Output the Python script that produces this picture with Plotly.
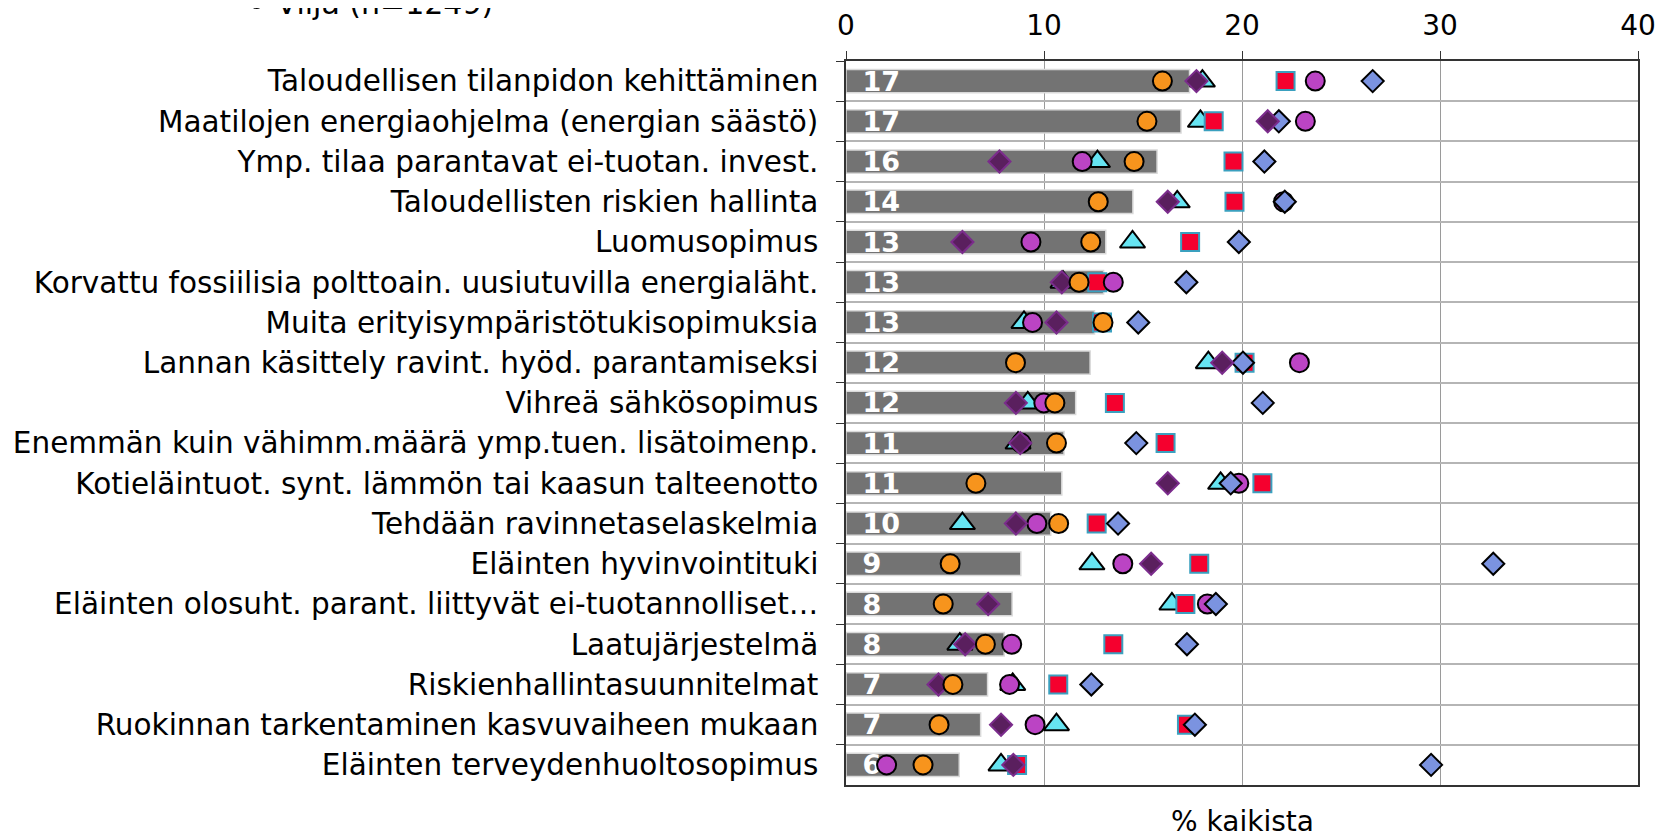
"""
Ympäristö- ja kehittämistoimenpiteet tuotantosuunnittain.
Harmaat palkit = kaikki tilat, merkit = tuotantosuunnat.
"""

import plotly.graph_objects as go

FONT = "Verdana, DejaVu Sans, sans-serif"

categories = [
    "Taloudellisen tilanpidon kehittäminen",
    "Maatilojen energiaohjelma (energian säästö)",
    "Ymp. tilaa parantavat ei-tuotan. invest.",
    "Taloudellisten riskien hallinta",
    "Luomusopimus",
    "Korvattu fossiilisia polttoain. uusiutuvilla energialäht.",
    "Muita erityisympäristötukisopimuksia",
    "Lannan käsittely ravint. hyöd. parantamiseksi",
    "Vihreä sähkösopimus",
    "Enemmän kuin vähimm.määrä ymp.tuen. lisätoimenp.",
    "Kotieläintuot. synt. lämmön tai kaasun talteenotto",
    "Tehdään ravinnetaselaskelmia",
    "Eläinten hyvinvointituki",
    "Eläinten olosuht. parant. liittyvät ei-tuotannolliset…",
    "Laatujärjestelmä",
    "Riskienhallintasuunnitelmat",
    "Ruokinnan tarkentaminen kasvuvaiheen mukaan",
    "Eläinten terveydenhuoltosopimus",
]

# % kaikista tiloista
kaikki = [17.35, 16.92, 15.71, 14.49, 13.12, 13.01, 12.55, 12.33, 11.6,
          11.01, 10.9, 10.34, 8.83, 8.39, 7.99, 7.15, 6.8, 5.72]

sarja_kolmio = [18.0, 17.9, 12.7, 16.73, 14.47, 10.96, 8.99, 18.3, 9.18,
                8.69, 18.92, 5.88, 12.42, 16.46, 5.75, 8.42, 10.63, 7.83]
sarja_nelio = [22.2, 18.57, 19.57, 19.62, 17.38, 12.69, 12.93, 20.13, 13.58,
               16.14, 21.03, 12.66, 17.84, 17.14, 13.5, 10.72, 17.22, 8.64]
sarja_ympyra = [23.7, 23.2, 11.93, 22.1, 9.34, 13.5, 9.42, 22.9, 9.99,
                8.85, 19.84, 9.64, 13.98, 18.25, 8.37, 8.26, 9.55, 2.05]
sarja_vinonelio = [26.6, 21.86, 21.13, 22.16, 19.84, 17.19, 14.76, 20.05, 21.05,
                   14.66, 19.43, 13.74, 32.69, 18.68, 17.22, 12.39, 17.62, 29.55]
sarja_violetti = [17.7, 21.3, 7.75, 16.25, 5.88, 10.9, 10.63, 19.0, 8.58,
                  8.8, 16.25, 8.58, 15.41, 7.18, 6.02, 4.67, 7.83, 8.45]
vilja = [15.98, 15.2, 14.55, 12.74, 12.36, 11.77, 12.98, 8.56, 10.55,
         10.63, 6.56, 10.74, 5.26, 4.91, 7.04, 5.4, 4.7, 3.89]

x_ticks = [0, 10, 20, 30, 40]

fig = go.Figure()

# Kaikki tilat: harmaat palkit, arvo palkin alussa
fig.add_trace(go.Bar(
    x=kaikki,
    y=categories,
    orientation='h',
    width=0.58,
    marker=dict(color='#737373', line=dict(color='#d9d9d9', width=1.5)),
    text=["\u2002" + f"{v:.0f}" for v in kaikki],
    textposition='inside',
    insidetextanchor='start',
    textangle=0,
    textfont=dict(family=FONT, size=27, color='white', weight='bold'),
    showlegend=False,
    hoverinfo='skip'
))

# Merkit piirtojärjestyksessä (viimeinen päällimmäisenä)
series = [
    ('Sarja 1', sarja_kolmio, 'triangle-up', 22, '#66e4f2', '#000000', False),
    ('Sarja 2', sarja_nelio, 'square', 18, '#f5002e', '#3aa0bf', False),
    ('Sarja 3', sarja_ympyra, 'circle', 19, '#bb44c4', '#000000', False),
    ('Sarja 4', sarja_vinonelio, 'diamond', 17, '#7b93e0', '#000000', False),
    ('Sarja 5', sarja_violetti, 'diamond', 17, '#5a1f5e', '#7b2c8c', False),
    ('Vilja (n=1249)', vilja, 'circle', 19, '#f7941d', '#000000', True),
]

for name, values, symbol, size, fill, edge, in_legend in series:
    fig.add_trace(go.Scatter(
        x=values,
        y=categories,
        mode='markers',
        name=name,
        marker=dict(symbol=symbol, size=size, color=fill,
                    line=dict(color=edge, width=2)),
        showlegend=in_legend
    ))

# Sivun body-marginaali (8 px) huomioitu koossa ja marginaaleissa
fig.update_layout(
    width=1660,
    height=827,
    margin=dict(l=838, r=30, t=53, b=50, autoexpand=False),
    paper_bgcolor='white',
    plot_bgcolor='white',
    font=dict(family=FONT, size=28, color='#000000'),
    uniformtext=dict(minsize=27, mode='show'),
    legend=dict(
        x=-0.7695, y=1.0815, xanchor='left', yanchor='middle',
        itemsizing='constant',
        font=dict(family=FONT, size=30, color='#000000'),
        bgcolor='rgba(0,0,0,0)'
    ),
    xaxis=dict(
        side='top',
        range=[0, 40],
        tickvals=x_ticks,
        showgrid=True,
        gridcolor='#9a9a9a',
        gridwidth=1,
        zeroline=False,
        showline=True,
        linecolor='#333333',
        linewidth=1.5,
        mirror=True,
        ticks='outside',
        ticklen=8,
        tickcolor='#333333',
        ticklabelstandoff=5,
        tickfont=dict(family=FONT, size=28, color='#000000')
    ),
    yaxis=dict(
        type='category',
        categoryorder='array',
        categoryarray=categories,
        range=[len(categories) - 0.5, -0.5],
        tickson='boundaries',
        showgrid=True,
        gridcolor='#b5b5b5',
        gridwidth=2,
        showline=True,
        linecolor='#333333',
        linewidth=1.5,
        mirror=True,
        ticks='outside',
        ticklen=8,
        tickcolor='#333333',
        ticklabelstandoff=20,
        tickfont=dict(family=FONT, size=29.5, color='#000000')
    ),
    annotations=[dict(
        text='% kaikista',
        x=0.5, y=-0.051,
        xref='paper', yref='paper',
        xanchor='center', yanchor='middle',
        showarrow=False,
        font=dict(family=FONT, size=28, color='#000000')
    )]
)

fig.write_html("out.html")
